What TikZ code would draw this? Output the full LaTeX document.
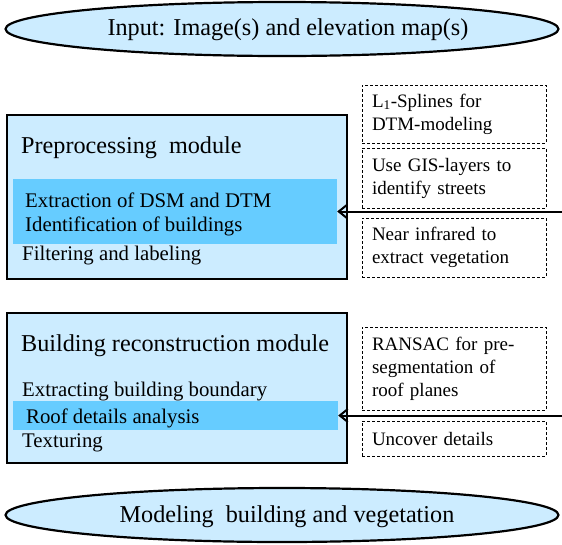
\documentclass[tikz,border=0pt]{standalone}
\usepackage{fontspec}
\setmainfont{Liberation Serif}
\usetikzlibrary{shapes.geometric,arrows.meta}
\definecolor{paleblue}{RGB}{204,236,255}
\definecolor{bandblue}{RGB}{102,204,255}
\begin{document}
\begin{tikzpicture}[x=1pt,y=-1pt,
  endcap/.style={ellipse, draw, line width=2.2pt, fill=paleblue,
    minimum width=553pt, minimum height=54pt, inner sep=0pt},
  captxt/.style={inner sep=0pt, font=\fontsize{24.2}{28}\selectfont},
  module/.style={draw, line width=2.4pt, fill=paleblue, inner sep=0pt},
  band/.style={fill=bandblue, inner sep=0pt},
  title/.style={anchor=base west, inner sep=0pt, font=\fontsize{24.2}{28}\selectfont},
  txt/.style={anchor=base west, inner sep=0pt, font=\fontsize{20.8}{24}\selectfont},
  note/.style={draw, dash pattern=on 3pt off 2pt, line width=1pt, minimum width=184pt,
    text width=164pt, inner xsep=10pt, inner ysep=0pt, align=left,
    font=\fontsize{19}{23}\selectfont},
  feed/.style={line width=2pt, -{Straight Barb[length=8pt,width=13pt]}}
]
\useasboundingbox (0,0) rectangle (562,544);

% input and output ellipses
\node[endcap] (input) at (282,29) {};
\node[captxt] (input-text) at (288,30) {Input: Image(s) and elevation map(s)};
\node[endcap] (output) at (282,515) {};
\node[captxt] (output-text) at (287,517) {Modeling\ \ building and vegetation};

% preprocessing module
\node[module, minimum width=340pt, minimum height=164pt] (pre) at (177,197) {};
\node[band, minimum width=324pt, minimum height=65pt] (band1) at (175,211.5) {};
\node[title] (pre-title) at (21,153) {Preprocessing\ \ module};
\node[txt] (pre-a) at (25,207) {Extraction of DSM and DTM};
\node[txt] (pre-b) at (25,231) {Identification of buildings};
\node[txt] (pre-c) at (22,260) {Filtering and labeling};

% building reconstruction module
\node[module, minimum width=340pt, minimum height=150pt] (rec) at (177,388) {};
\node[band, minimum width=325pt, minimum height=29pt] (band2) at (175.5,415.5) {};
\node[title] (rec-title) at (21,351) {Building reconstruction module};
\node[txt] (rec-a) at (22,396) {Extracting building boundary};
\node[txt] (rec-b) at (26,423) {Roof details analysis};
\node[txt] (rec-c) at (22,447) {Texturing};

% method notes
\node[note, minimum height=58pt] (noteA) at (454,114) {L\textsubscript{1}-Splines for\\DTM-modeling};
\node[note, minimum height=60pt] (noteB) at (454,178) {Use GIS-layers to\\identify streets};
\node[note, minimum height=59pt] (noteC) at (454,247.5) {Near infrared to\\extract vegetation};
\node[note, minimum height=83pt] (noteD) at (454,368.5) {RANSAC for pre-\\segmentation of\\roof planes};
\node[note, minimum height=35pt] (noteE) at (454,438.5) {Uncover details};

% feeds into the highlighted steps
\coordinate (feed1) at (562,211.5);
\coordinate (feed2) at (562,415.5);
\draw[feed] (feed1) -- (band1.east);
\draw[feed] (feed2) -- (band2.east);
\end{tikzpicture}
\end{document}
